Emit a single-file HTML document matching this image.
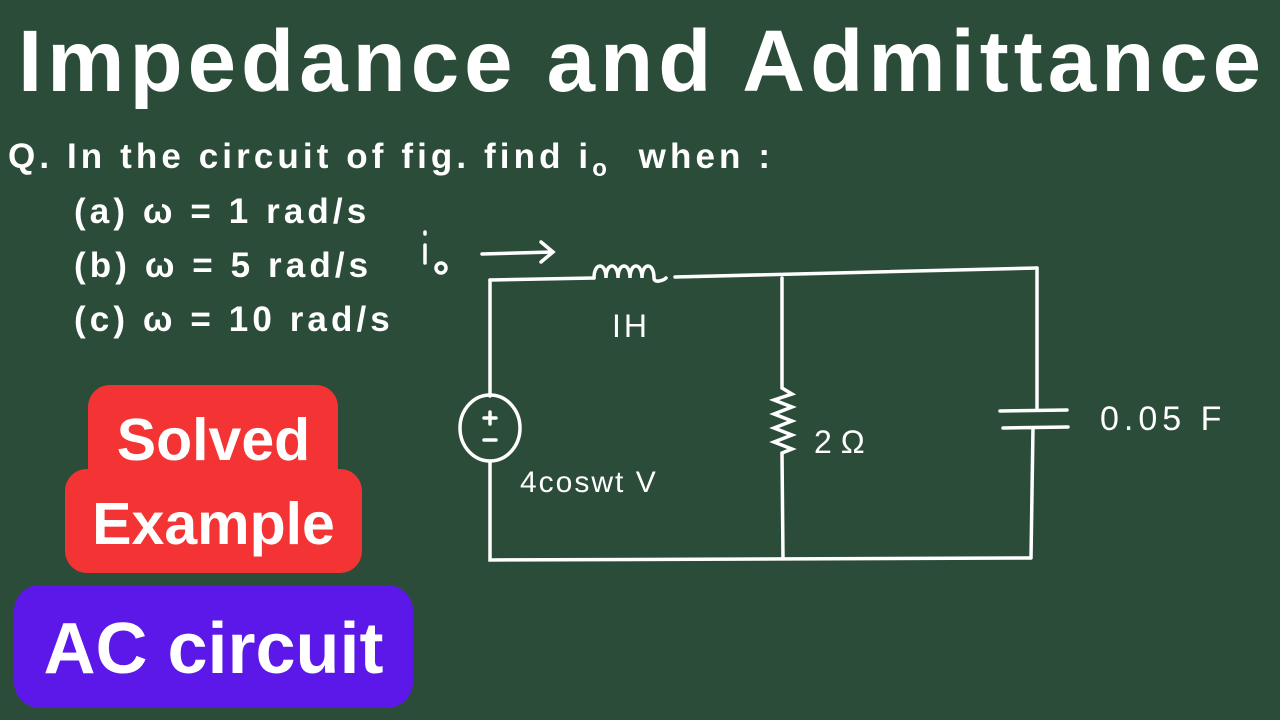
<!DOCTYPE html>
<html><head><meta charset="utf-8"><style>
body{margin:0;width:1280px;height:720px;background:#2c4c3a;overflow:hidden;position:relative;font-family:"Liberation Sans",sans-serif;color:#fff}
.t{position:absolute;white-space:nowrap}
.q{font-size:35px;font-weight:bold;letter-spacing:4.1px}
</style></head><body>
<div class="t" style="left:18px;top:12px;font-size:87px;font-weight:bold;letter-spacing:5px">Impedance and Admittance</div>
<div class="t q" style="left:8px;top:137px">Q. In the circuit of fig. find i<sub style="font-size:24px">o</sub> &nbsp;when :</div>
<div class="t q" style="left:74px;top:192px">(a) ω = 1 rad/s</div>
<div class="t q" style="left:74px;top:246px">(b) ω = 5 rad/s</div>
<div class="t q" style="left:74px;top:300px">(c) ω = 10 rad/s</div>
<div style="position:absolute;left:88px;top:385px;width:250px;height:110px;background:#f43434;border-radius:22px"></div>
<div style="position:absolute;left:65px;top:469px;width:297px;height:104px;background:#f43434;border-radius:22px"></div>
<div class="t" style="left:65px;width:297px;text-align:center;top:406px;font-size:59px;font-weight:bold">Solved</div>
<div class="t" style="left:65px;width:297px;text-align:center;top:490px;font-size:59px;font-weight:bold">Example</div>
<div style="position:absolute;left:14px;top:585px;width:399px;height:123px;background:#5c18e8;border-radius:26px"></div>
<div class="t" style="left:14px;width:399px;text-align:center;top:608px;font-size:72px;font-weight:bold">AC circuit</div>
<svg width="1280" height="720" style="position:absolute;left:0;top:0" fill="none" stroke="#fff" stroke-width="3.5" stroke-linecap="round">
<path d="M490 280 L594 278"/>
<path d="M594 278 c0-16 12-16 12 0 c0-16 12-16 12 0 c0-16 12-16 12 0 c0-16 12-16 12 0 c0-16 12-16 12 0 c0 6 10 2 12 0"/>
<path d="M675 277 L1037 268"/>
<path d="M490 280 L490 396"/>
<ellipse cx="490" cy="428" rx="30" ry="33"/>
<path d="M490 461 L490 560 L1030 558"/>
<path d="M484 418 h12 M490 412 v12 M484 440 h12"/>
<path d="M782 278 L782 388 l10 6 -18 6 18 7 -18 7 18 7 -18 7 18 7 -18 7 18 7 -10 4 L783 558"/>
<path d="M1037 268 L1037 410 M1000 411 L1067 410 M1003 428 L1068 427 M1033 428 L1031 558"/>
<path d="M482 254 L552 252 M541 242 L553 252 L541 262"/>
<path d="M425 232 v2 M425 245 v18"/>
<circle cx="441" cy="268" r="5"/>
</svg>
<div class="t" style="left:612px;top:308px;font-size:32px;letter-spacing:3px">IH</div>
<div class="t" style="left:520px;top:466px;font-size:30px;letter-spacing:2px">4coswt V</div>
<div class="t" style="left:814px;top:424px;font-size:32px">2 Ω</div>
<div class="t" style="left:1100px;top:400px;font-size:34px;letter-spacing:5px">0.05 F</div>
</body></html>
